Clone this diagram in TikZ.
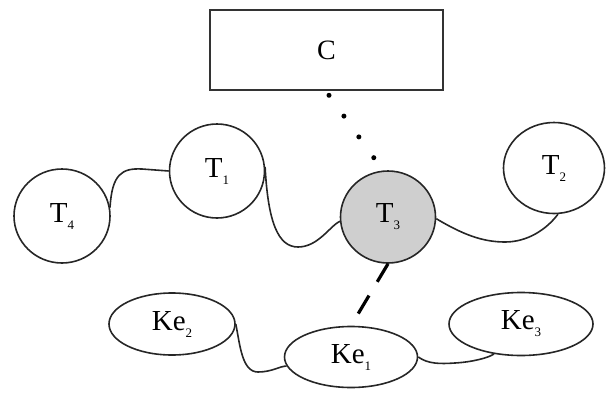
\documentclass[tikz,border=0pt]{standalone}
\usepackage{fontspec}
\setmainfont{Liberation Serif}
\usetikzlibrary{shapes.geometric}
\newcommand{\lowidx}[1]{\raisebox{-7pt}{\fontsize{13}{13}\selectfont #1}}
\tikzset{
  blob/.style={ellipse, draw=black!85, line width=1.6pt, inner sep=0pt,
    font=\fontsize{29}{29}\selectfont},
  wire/.style={line width=1.6pt, draw=black!85},
  crate/.style={rectangle, draw=black!80, line width=2.6pt, inner sep=0pt,
    font=\fontsize{28}{28}\selectfont},
  dotlink/.style={line width=5pt, line cap=round, dash pattern=on 0pt off 25.6pt},
  dashlink/.style={line width=3.2pt, dash pattern=on 21pt off 16pt},
}
\begin{document}
\begin{tikzpicture}[x=1pt,y=-1pt]
\useasboundingbox (0,0) rectangle (606,392);

% top box
\node[crate, minimum width=233, minimum height=80] (c) at (326.5,50) {C};

% upper chain
\node[blob, minimum width=96, minimum height=94] (t4) at (62,216) {T\lowidx{4}};
\node[blob, minimum width=95, minimum height=94] (t1) at (217,171) {T\lowidx{1}};
\node[blob, minimum width=95, minimum height=92, fill=black!19] (t3) at (388,217) {T\lowidx{3}};
\node[blob, minimum width=101, minimum height=91] (t2) at (554,168) {T\lowidx{2}};

% lower chain
\node[blob, minimum width=126, minimum height=62] (ke2) at (172,324) {Ke\lowidx{2}};
\node[blob, minimum width=133, minimum height=61] (ke1) at (351,357) {Ke\lowidx{1}};
\node[blob, minimum width=144, minimum height=63] (ke3) at (521,324) {Ke\lowidx{3}};

% links between neighbours
\draw[wire] (t4.10) .. controls (112,174) and (122,168) .. (142,169) -- (t1.west);
\draw[wire] (t1.5) .. controls (268,222) and (278,247) .. (298,247)
  .. controls (318,247) and (330,226) .. (t3.185);
\draw[wire] (t3.358) .. controls (462,234) and (482,242) .. (505,242)
  .. controls (527,242) and (546,230) .. (t2.275);
\draw[wire] (ke2.east) .. controls (240,345) and (242,372) .. (258,372)
  .. controls (272,372) and (280,366) .. (ke1.188);
\draw[wire] (ke1.east) .. controls (428,364) and (440,364) .. (455,363)
  .. controls (472,362) and (488,358) .. (ke3.228);

% links to the box and between chains
\coordinate (cdot) at ([xshift=2.5pt,yshift=-4pt]c.south);
\coordinate (tdot) at (374,158);
\draw[dotlink] (cdot) -- (tdot);
\draw[dashlink] (t3.south) -- (ke1.north);
\end{tikzpicture}
\end{document}
